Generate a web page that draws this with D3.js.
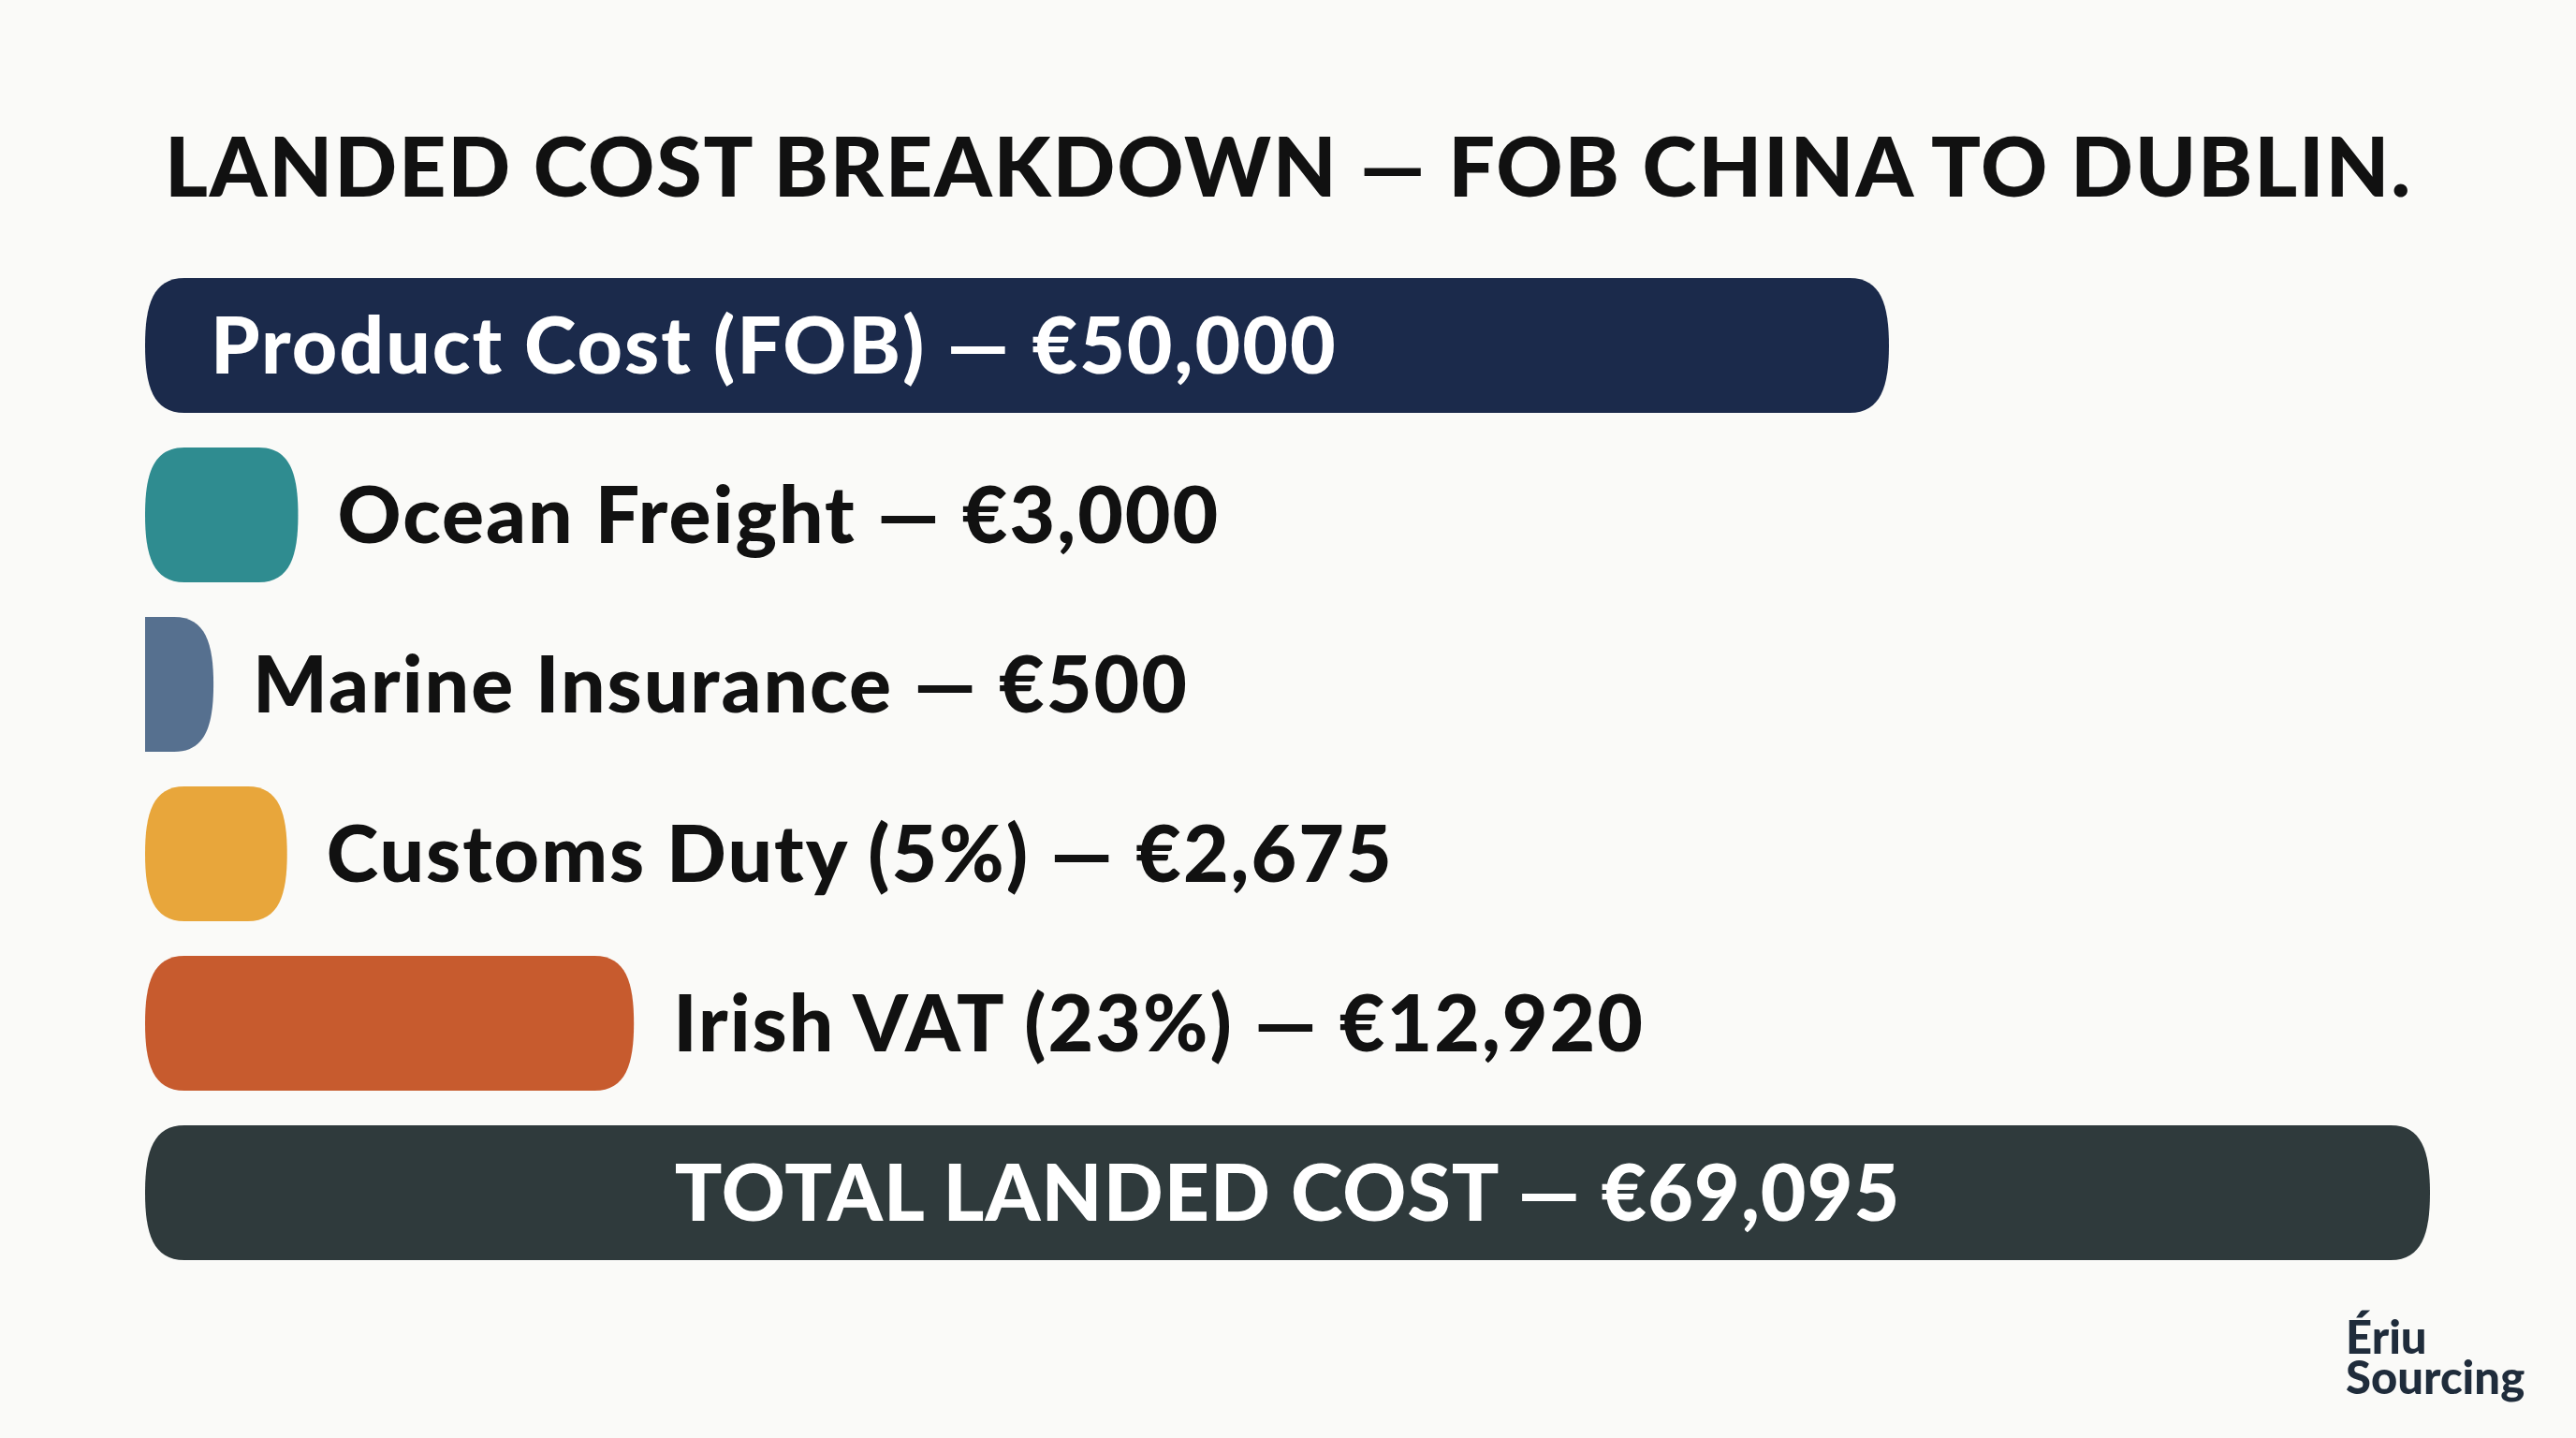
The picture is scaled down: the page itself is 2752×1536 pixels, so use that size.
<!DOCTYPE html>
<html><head><meta charset="utf-8">
<script src="https://cdn.jsdelivr.net/npm/d3@7"></script>
<style>html,body{margin:0;padding:0;background:#fafaf8;}</style>
</head><body>
<svg id="chart" width="2752" height="1536"></svg>
<script>
const title = "LANDED COST BREAKDOWN — FOB CHINA TO DUBLIN.";
const categories = ["Product Cost (FOB)", "Ocean Freight", "Marine Insurance", "Customs Duty (5%)", "Irish VAT (23%)"];
const values = [50000, 3000, 500, 2675, 12920];
const colors = ["#1b2a4b", "#2f8c90", "#56708f", "#e8a63b", "#c75b2e"];
const totalLabel = "TOTAL LANDED COST";
const totalValue = 69095;
const totalColor = "#2f3a3c";
const brand = ["Ériu", "Sourcing"];

const W = 2752, H = 1536;
const svg = d3.select("#chart");
svg.append("rect").attr("width", W).attr("height", H).attr("fill", "#fafaf8");

const fmt = v => "€" + d3.format(",")(v);
const left = 155, right = 2596;
const rowTop = 297, rowStep = 181, barH = 144;
const R = 42;

const x = d3.scaleLinear().domain([0, 50000]).range([55, 1863]);
const y = d3.scaleBand().domain(d3.range(categories.length + 1))
  .range([rowTop, rowTop + rowStep * (categories.length + 1)]).paddingInner(0).paddingOuter(0);

function pill(x0, y0, w, h) {
  const rr = Math.min(R, w);
  const rl = w >= 2 * R ? Math.min(R, w / 2) : 0;
  let p = `M${x0 + rl},${y0} L${x0 + w - rr},${y0} C${x0 + w - rr * 0.2},${y0} ${x0 + w},${y0 + h * 0.2} ${x0 + w},${y0 + h / 2} C${x0 + w},${y0 + h * 0.8} ${x0 + w - rr * 0.2},${y0 + h} ${x0 + w - rr},${y0 + h} L${x0 + rl},${y0 + h}`;
  if (rl > 0) {
    p += ` C${x0 + rl * 0.2},${y0 + h} ${x0},${y0 + h * 0.8} ${x0},${y0 + h / 2} C${x0},${y0 + h * 0.2} ${x0 + rl * 0.2},${y0} ${x0 + rl},${y0} Z`;
  } else {
    p += ` L${x0},${y0} Z`;
  }
  return p;
}

// Title
svg.append("text").attr("x", 176).attr("y", 210)
  .attr("font-family", "Lato").attr("font-weight", 900).attr("font-size", 88)
  .attr("letter-spacing", 1.8)
  .attr("fill", "#111").text(title);

const data = categories.map((c, i) => ({c, v: values[i], col: colors[i], i}));
const g = svg.append("g");
data.forEach(d => {
  const w = x(d.v);
  const yy = y(d.i);
  g.append("path").attr("d", pill(left, yy, w, barH)).attr("fill", d.col);
  const inside = d.i === 0;
  g.append("text")
    .attr("x", inside ? left + 70 : left + w + 42)
    .attr("y", yy + barH / 2)
    .attr("dy", "0.36em")
    .attr("font-family", "Lato").attr("font-weight", 900).attr("font-size", 84)
    .attr("letter-spacing", 2.0)
    .attr("fill", inside ? "#ffffff" : "#111111")
    .text(d.c + " — " + fmt(d.v));
});

// Total
const ty = y(categories.length);
svg.append("path").attr("d", pill(left, ty, right - left, barH)).attr("fill", totalColor);
svg.append("text").attr("x", (left + right) / 2).attr("y", ty + barH / 2).attr("dy", "0.36em")
  .attr("text-anchor", "middle")
  .attr("font-family", "Lato").attr("font-weight", 900).attr("font-size", 84)
  .attr("letter-spacing", 1.1)
  .attr("fill", "#ffffff").text(totalLabel + " — " + fmt(totalValue));

// Brand
const b = svg.append("text").attr("x", 2506).attr("y", 1446)
  .attr("font-family", "Lato").attr("font-weight", 900).attr("font-size", 49).attr("fill", "#1f2c3b");
b.append("tspan").attr("x", 2506).attr("y", 1446).text(brand[0]);
b.append("tspan").attr("x", 2506).attr("y", 1489).text(brand[1]);
</script>
</body></html>
